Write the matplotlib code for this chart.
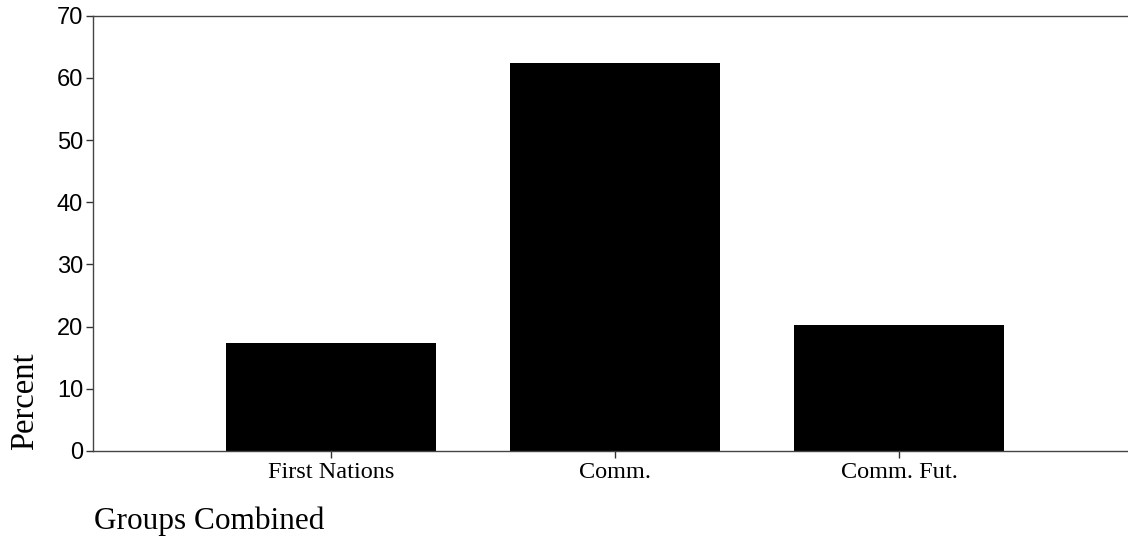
import matplotlib.pyplot as plt

# Values
groups = ['First Nations', 'Comm.', 'Comm. Fut.']
percent = [17.3, 62.4, 20.3]
yticks = [0, 10, 20, 30, 40, 50, 60, 70]

fig = plt.figure(figsize=(11.28, 5.46), dpi=100)
ax = fig.add_axes([0.0824, 0.174, 0.9176, 0.797])

ax.bar(range(len(groups)), percent, width=0.74, color='black')

ax.set_xlim(-0.838, 2.806)
ax.set_ylim(0, 70)
ax.set_yticks(yticks)
ax.set_xticks(range(len(groups)))
ax.set_xticklabels(groups, family='Liberation Serif', fontsize=17.5)
for lab in ax.get_yticklabels():
    lab.set_family('Liberation Sans')
    lab.set_fontsize(17)

ax.tick_params(axis='y', length=5, width=1, pad=2, color='#333333')
ax.tick_params(axis='x', length=5, width=1, pad=3, color='#333333')

ax.spines['right'].set_visible(False)
for s in ['left', 'bottom', 'top']:
    ax.spines[s].set_linewidth(1)
    ax.spines[s].set_color('#444444')

# Axis titles
fig.text(0.022, 0.175, 'Percent', rotation=90, ha='center', va='bottom',
         family='Liberation Serif', fontsize=23.5)
fig.text(0.083, 0.045, 'Groups Combined', ha='left', va='center',
         family='Liberation Serif', fontsize=22.5)

plt.savefig('out.png', dpi=100)
